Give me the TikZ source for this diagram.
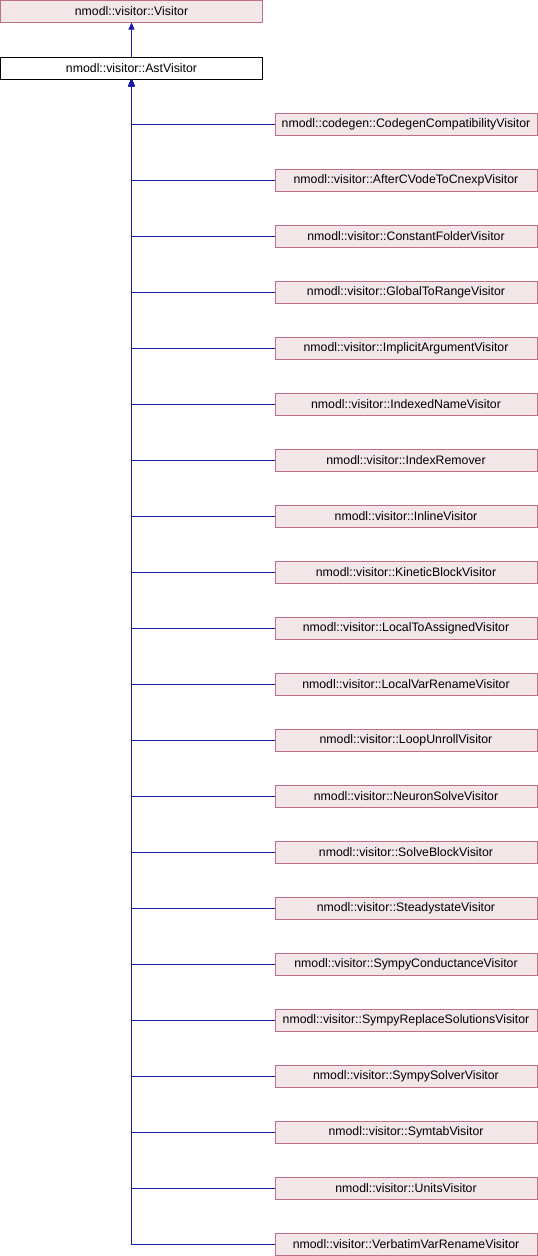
\documentclass[tikz,border=0pt]{standalone}
\usepackage{fontspec}
\setmainfont{Liberation Sans}
\usetikzlibrary{arrows.meta,positioning}

\definecolor{boxfill}{HTML}{F2E6E8}
\definecolor{boxline}{HTML}{BF6F86}
\definecolor{edgeblue}{HTML}{1A1AA6}

\begin{document}
\begin{tikzpicture}[x=1pt,y=-1pt,<-,>={Triangle[length=7pt,width=6pt]},
  node distance=34pt,
  base node/.style={rectangle,draw=boxline,fill=boxfill,line width=0.8pt,outer sep=0pt,
    minimum width=262pt,minimum height=22pt,inner sep=0pt,font=\fontsize{12.3}{14}\selectfont},
  top node/.style={base node,draw=black,fill=white},
  child node/.style={base node},
  link/.style={edgeblue,line width=0.8pt}]

  \useasboundingbox (0,0) rectangle (538,1256);

  \node[base node] (visitor) at (131.5,11.5) {nmodl::visitor::Visitor};
  \node[top node] (ast) at (131.5,68) {nmodl::visitor::AstVisitor};

  \node[child node] (c1) at (406,124) {nmodl::codegen::CodegenCompatibilityVisitor};
  \node[child node] (c2) [below=of c1] {nmodl::visitor::AfterCVodeToCnexpVisitor};
  \node[child node] (c3) [below=of c2] {nmodl::visitor::ConstantFolderVisitor};
  \node[child node] (c4) [below=of c3] {nmodl::visitor::GlobalToRangeVisitor};
  \node[child node] (c5) [below=of c4] {nmodl::visitor::ImplicitArgumentVisitor};
  \node[child node] (c6) [below=of c5] {nmodl::visitor::IndexedNameVisitor};
  \node[child node] (c7) [below=of c6] {nmodl::visitor::IndexRemover};
  \node[child node] (c8) [below=of c7] {nmodl::visitor::InlineVisitor};
  \node[child node] (c9) [below=of c8] {nmodl::visitor::KineticBlockVisitor};
  \node[child node] (c10) [below=of c9] {nmodl::visitor::LocalToAssignedVisitor};
  \node[child node] (c11) [below=of c10] {nmodl::visitor::LocalVarRenameVisitor};
  \node[child node] (c12) [below=of c11] {nmodl::visitor::LoopUnrollVisitor};
  \node[child node] (c13) [below=of c12] {nmodl::visitor::NeuronSolveVisitor};
  \node[child node] (c14) [below=of c13] {nmodl::visitor::SolveBlockVisitor};
  \node[child node] (c15) [below=of c14] {nmodl::visitor::SteadystateVisitor};
  \node[child node] (c16) [below=of c15] {nmodl::visitor::SympyConductanceVisitor};
  \node[child node] (c17) [below=of c16] {nmodl::visitor::SympyReplaceSolutionsVisitor};
  \node[child node] (c18) [below=of c17] {nmodl::visitor::SympySolverVisitor};
  \node[child node] (c19) [below=of c18] {nmodl::visitor::SymtabVisitor};
  \node[child node] (c20) [below=of c19] {nmodl::visitor::UnitsVisitor};
  \node[child node] (c21) [below=of c20] {nmodl::visitor::VerbatimVarRenameVisitor};

  % inheritance edges
  \draw[link] (visitor) -- (ast);
  \foreach \i in {1,...,21}
    \draw[link] (ast.south) |- (c\i.west);

\end{tikzpicture}
\end{document}
